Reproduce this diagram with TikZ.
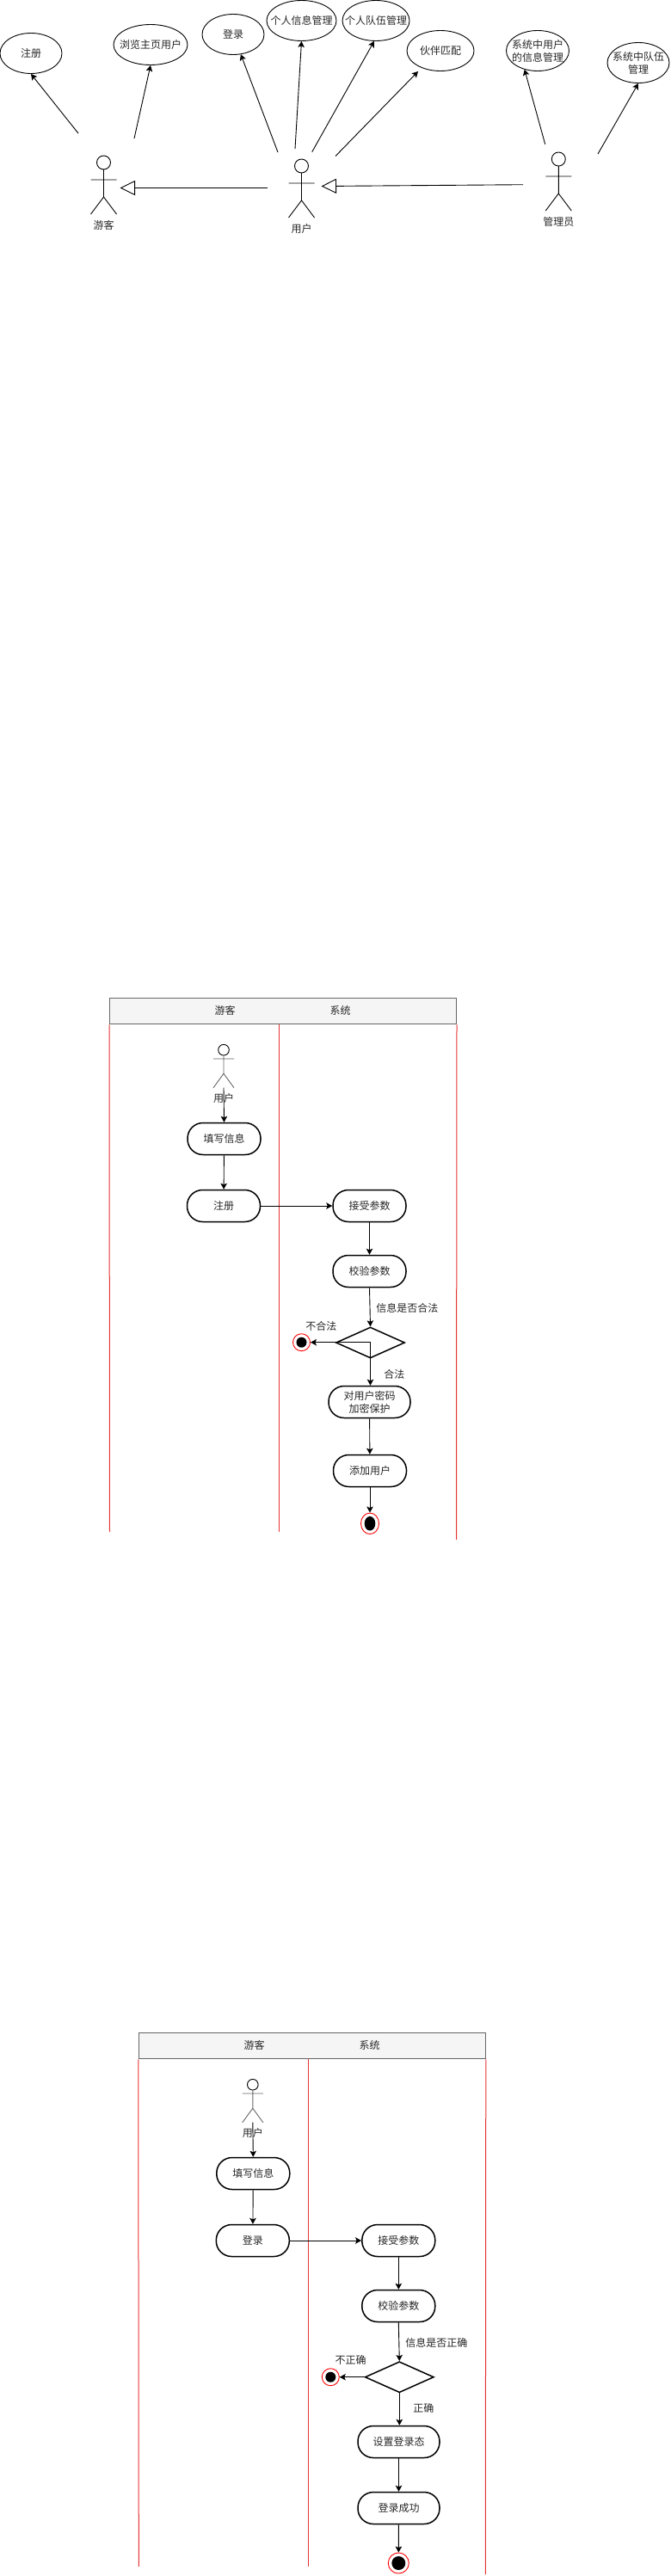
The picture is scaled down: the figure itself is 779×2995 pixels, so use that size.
\documentclass[tikz,border=0pt]{standalone}
\usepackage{fontspec}
\setmainfont{Noto Sans CJK SC}
\usepackage{xcolor}
\usetikzlibrary{arrows.meta,calc,positioning,shapes.geometric}
\definecolor{headfill}{HTML}{F5F5F5}
\definecolor{headline}{HTML}{666666}
\definecolor{lanered}{HTML}{E63333}
\tikzset{
  usecase/.style={ellipse,draw,line width=.9pt,inner sep=0pt,minimum width=#1,minimum height=47pt},
  every label/.style={inner sep=0pt,align=center},
  flow/.style={line width=.9pt,-{Stealth[length=7pt,width=7.5pt,inset=1.5pt]}},
  inherit/.style={line width=.9pt,-{Triangle[open,length=17.5pt,width=17pt]}},
  state/.style={rectangle,draw,line width=1.5pt,rounded corners=18pt,minimum width=#1,minimum height=37pt,inner sep=0pt},
  state/.default=85pt,
  choice/.style={diamond,draw,line width=1.5pt,inner sep=0pt,minimum width=80pt,minimum height=36pt},
  stopmark/.style={ellipse,draw=red,fill=white,line width=.9pt,inner sep=0pt,minimum width=#1},
  laneline/.style={lanered,line width=1pt},
  stick/.style={line width=.9pt},
  pics/actor/.style={code={
    \draw[stick] (0,0) circle (8pt);
    \draw[stick] (0,8) -- (0,40) (-15,20) -- (15,20) (-15,60) -- (0,40) -- (15,60);
    \node[inner sep=0pt] (-name) at (0,73) {#1};
  }},
  pics/smallactor/.style={code={
    \draw[stick] (0,0) circle (6.3pt);
    \draw[stick,headline] (0,6.5) -- (0,27.5) (-12,10.3) -- (12,10.3) (-12,44) -- (0,27.5) -- (12,44);
    \node[inner sep=0pt] (-name) at (0,56.5) {#1};
  }},
  pics/lanebox/.style={code={
    \node[rectangle,draw=headline,fill=headfill,line width=1pt,minimum width=403pt,minimum height=30.5pt,inner sep=0pt] (-head) at (329,1175.5) {};
    \node[inner sep=0pt] (-guest) at (261.7,1174.5) {游客};
    \node[inner sep=0pt] (-sys) at (395.7,1174.5) {系统};
    \draw[laneline] (-head.south west) -- (127.5,1781);
    \draw[laneline] (324.3,1190.7) -- (324.3,1781);
    \draw[laneline] (-head.south east) -- (530.5,1790);
  }}
}
\begin{document}
\begin{tikzpicture}[x=1pt,y=-1pt,font=\fontsize{12}{15}\selectfont,text=black!85]
\useasboundingbox (0,0) rectangle (779,2995);
\node[usecase=72pt,label=center:注册] (ucReg) at (36,62) {};
\node[usecase=86pt,label=center:浏览主页用户] (ucHome) at (175,52) {};
\node[usecase=72pt,label=center:登录] (ucLogin) at (271,40) {};
\node[usecase=81pt,label=center:个人信息管理] (ucInfo) at (350.5,24) {};
\node[usecase=78pt,label=center:个人队伍管理] (ucTeam) at (437,24) {};
\node[usecase=78pt,label=center:伙伴匹配] (ucMatch) at (512,59) {};
\node[usecase=73pt,label={center:系统中用户\\的信息管理}] (ucSysUser) at (625,59) {};
\node[usecase=72pt,label={center:系统中队伍\\管理}] (ucSysTeam) at (742,73) {};
\pic (gst) at (120.5,189) {actor=游客};
\pic (usr) at (350.5,193) {actor=用户};
\pic (adm) at (649.3,185) {actor=管理员};
\coordinate (gstA) at (91,155);
\coordinate (gstB) at (156,161);
\coordinate (gstR) at (139.5,218.5);
\coordinate (usrA) at (323,177);
\coordinate (usrB) at (343,173);
\coordinate (usrC) at (362.7,176.7);
\coordinate (usrD) at (390,181.5);
\coordinate (usrL) at (310.5,218.5);
\coordinate (usrR) at (373.5,216.5);
\coordinate (admA) at (633.7,167.7);
\coordinate (admB) at (695,179);
\coordinate (admL) at (608,214.7);
\coordinate (matchEnd) at (486,83);
\draw[flow] (gstA) -- (ucReg.south);
\draw[flow] (gstB) -- (ucHome.south);
\draw[flow] (usrA) -- (ucLogin.-69);
\draw[flow] (usrB) -- (ucInfo.south);
\draw[flow] (usrC) -- (ucTeam.-95);
\draw[flow] (usrD) -- (matchEnd);
\draw[flow] (admA) -- (ucSysUser.235);
\draw[flow] (admB) -- (ucSysTeam.south);
\draw[inherit] (usrL) -- (gstR);
\draw[inherit] (admL) -- (usrR);

\pic (laneA) {lanebox};
\pic (actA) at (260,1220.7) {smallactor=用户};
\coordinate (actAfoot) at (260,1264.5);
\node[state] (fillA) at (260.5,1324) {填写信息};
\node[state] (regA) at (260,1402) {注册};
\node[state] (recvA) at (429.5,1402) {接受参数};
\node[state] (checkA) at (429.5,1478) {校验参数};
\node[choice] (askA) at (430.5,1561) {};
\node[stopmark=20pt,minimum height=20pt] (failA) at (350.5,1560.7) {};
\fill (failA.center) circle (6pt);
\node[state=95pt,align=center] (hashA) at (429.5,1630) {对用户密码\\加密保护};
\node[state] (addA) at (430,1710) {添加用户};
\node[stopmark=21pt,minimum height=24.5pt] (endA) at (430,1771.3) {};
\fill (endA.center) ellipse (6.3pt and 8.3pt);
\node[inner sep=0pt] (lbAskA) at (473.3,1520.7) {信息是否合法};
\node[inner sep=0pt] (lbBadA) at (373.3,1541.7) {不合法};
\node[inner sep=0pt] (lbOkA) at (458.3,1597.7) {合法};
\draw[flow] (actAfoot) -- (fillA.north);
\draw[flow] (fillA) -- (regA);
\draw[flow] (regA) -- (recvA);
\draw[flow] (recvA) -- (checkA);
\draw[flow] (checkA.south) -- (askA.north);
\draw[flow] (askA.south) |- (failA.east);
\draw[flow] (askA.south) -- (hashA.north -| askA.south);
\draw[flow] (hashA) -- (addA);
\draw[flow] (addA) -- (endA);

\begin{scope}[xshift=33.8pt,yshift=-1203pt]
\pic (laneB) {lanebox};
\pic (actB) at (260,1220.7) {smallactor=用户};
\coordinate (actBfoot) at (260,1264.5);
\node[state] (fillB) at (260.5,1324) {填写信息};
\node[state] (loginB) at (260,1402) {登录};
\node[state] (recvB) at (429.5,1402) {接受参数};
\node[state] (checkB) at (429.5,1478) {校验参数};
\node[choice] (askB) at (430.5,1560.7) {};
\node[stopmark=20pt,minimum height=20pt] (failB) at (350.5,1560.7) {};
\fill (failB.center) circle (6pt);
\node[state=95pt] (flagB) at (429.7,1636) {设置登录态};
\node[state=95pt] (doneB) at (429.7,1713) {登录成功};
\node[stopmark=24pt,minimum height=24pt] (endB) at (429.5,1777) {};
\fill (endB.center) circle (8pt);
\node[inner sep=0pt] (lbAskB) at (473.5,1520.7) {信息是否正确};
\node[inner sep=0pt] (lbBadB) at (373.9,1541.3) {不正确};
\node[inner sep=0pt] (lbOkB) at (458.5,1597.3) {正确};
\draw[flow] (actBfoot) -- (fillB.north);
\draw[flow] (fillB) -- (loginB);
\draw[flow] (loginB) -- (recvB);
\draw[flow] (recvB) -- (checkB);
\draw[flow] (checkB.south) -- (askB.north);
\draw[flow] (askB.west) -- (failB.east);
\draw[flow] (askB.south) -- (flagB.north -| askB.south);
\draw[flow] (flagB) -- (doneB);
\draw[flow] (doneB) -- (endB);
\end{scope}
\end{tikzpicture}
\end{document}
